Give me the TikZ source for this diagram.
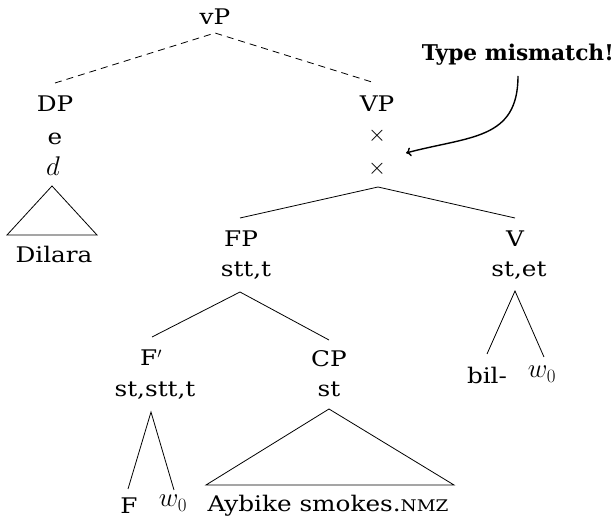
\RequirePackage{fix-cm}
\documentclass[tikz,border=0pt]{standalone}
\usepackage{fontspec}
\setmainfont{DejaVu Serif}[FakeStretch=1.15]
\newfontfamily\tmfont{DejaVu Serif}
\usetikzlibrary{arrows.meta}
\begin{document}
\begin{tikzpicture}[x=1pt,y=-1pt,
  lbl/.style={anchor=base,inner sep=0pt,font=\fontsize{21.5}{25}\selectfont},
  mth/.style={lbl,font=\fontsize{27}{30}\selectfont},
  edge/.style={line width=0.8pt},
  dedge/.style={edge,dash pattern=on 7pt off 5pt},
  callout/.style={line width=1.4pt,-{To[length=5pt,width=9pt]}},
]
\useasboundingbox (0,0) rectangle (614,518);
% text nodes
\node[lbl] (vP) at (215,25) {vP};
\node[lbl] (DP) at (55,112) {DP};
\node[lbl] (DPe) at (55,145) {e};
\node[mth] (DPd) at (53,176) {$d$};
\node[lbl] (Dilara) at (54,263) {Dilara};
\node[lbl] (VP) at (377,112) {VP};
\node[lbl,anchor=center,font=\fontsize{23}{25}\selectfont] (x1) at (377,136) {$\times$};
\node[lbl,anchor=center,font=\fontsize{23}{25}\selectfont] (x2) at (377,169) {$\times$};
\node[lbl,anchor=base east,font=\tmfont\bfseries\fontsize{21.7}{25}\selectfont] (TM) at (614,61) {Type mismatch!};
\node[lbl] (FP) at (241,247) {FP};
\node[lbl] (FPt) at (246,277) {stt,t};
\node[lbl] (V) at (515,247) {V};
\node[lbl] (Vt) at (519,277) {st,et};
\node[lbl] (Fb) at (151,366) {F$'$};
\node[lbl] (Fbt) at (155,397) {st,stt,t};
\node[lbl] (CP) at (329,367) {CP};
\node[lbl] (CPt) at (329,397) {st};
\node[lbl] (bil) at (487,384) {bil-};
\node[mth] (w0a) at (542,378) {$w_0$};
\node[lbl] (F) at (129,514) {F};
\node[mth] (w0b) at (173,507) {$w_0$};
\node[lbl] (Ay) at (328,512) {Aybike smokes.{\fontsize{16}{16}\selectfont NMZ}};
% attachment points
\coordinate (vPb) at (215,33);
\coordinate (DPt) at (55,83);
\coordinate (VPt) at (375,83);
\coordinate (DilA) at (52,186);
\coordinate (DilL) at (7,235);
\coordinate (DilR) at (97,235);
\coordinate (VPb) at (378,187);
\coordinate (FPtop) at (240,218);
\coordinate (Vtop) at (515,218);
\coordinate (FPb) at (240,292);
\coordinate (Fbtop) at (152,337);
\coordinate (CPtop) at (329,340);
\coordinate (Fbb) at (151,412);
\coordinate (Ftop) at (128,489);
\coordinate (w0btop) at (174,490);
\coordinate (CPb) at (329,409);
\coordinate (CPL) at (206,485);
\coordinate (CPR) at (454,485);
\coordinate (Vb) at (515,291);
\coordinate (biltop) at (487,354);
\coordinate (w0atop) at (544,357);
\coordinate (TMb) at (518,76);
\coordinate (arrEnd) at (406,153);
% edges
\draw[dedge] (DPt) -- (vPb) -- (VPt);
\draw[edge] (DilL) -- (DilA) -- (DilR) -- cycle;
\draw[edge] (FPtop) -- (VPb) -- (Vtop);
\draw[edge] (Fbtop) -- (FPb) -- (CPtop);
\draw[edge] (Ftop) -- (Fbb) -- (w0btop);
\draw[edge] (CPL) -- (CPb) -- (CPR) -- cycle;
\draw[edge] (biltop) -- (Vb) -- (w0atop);
\draw[callout] (TMb) .. controls (518,140) and (470,136) .. (arrEnd);
\end{tikzpicture}
\end{document}
